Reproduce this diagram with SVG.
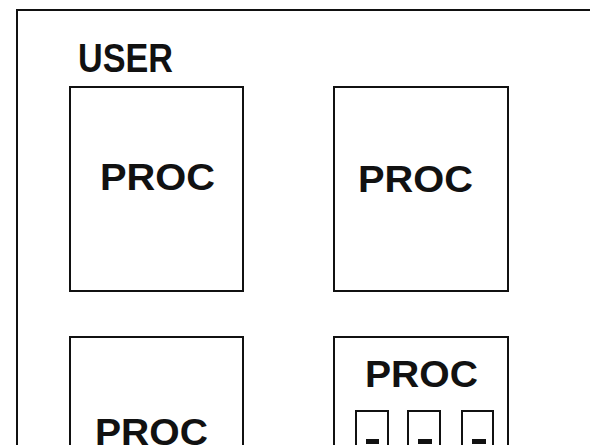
<svg xmlns="http://www.w3.org/2000/svg" width="590" height="445" viewBox="0 0 590 445">
<style>
.box{fill:#fff;stroke:#111;stroke-width:2}
.lbl{font-family:"Liberation Sans",Arial,sans-serif;font-weight:bold;fill:#111}
.mark{fill:#111}
</style>
<rect width="590" height="445" fill="#fff"/>
<g id="user">
<rect class="box" x="17" y="10" width="600" height="460"/>
<text class="lbl" x="78" y="72" font-size="40" textLength="95" lengthAdjust="spacingAndGlyphs">USER</text>
</g>
<g id="proc1">
<rect class="box" x="70" y="87" width="173" height="204"/>
<text class="lbl" x="100" y="190" font-size="37" textLength="115" lengthAdjust="spacingAndGlyphs">PROC</text>
</g>
<g id="proc2">
<rect class="box" x="334" y="87" width="174" height="204"/>
<text class="lbl" x="358" y="192" font-size="37" textLength="115" lengthAdjust="spacingAndGlyphs">PROC</text>
</g>
<g id="proc3">
<rect class="box" x="70" y="337" width="173" height="140"/>
<text class="lbl" x="95" y="445" font-size="37" textLength="113" lengthAdjust="spacingAndGlyphs">PROC</text>
</g>
<g id="proc4">
<rect class="box" x="334" y="337" width="174" height="140"/>
<text class="lbl" x="365" y="387" font-size="37" textLength="113" lengthAdjust="spacingAndGlyphs">PROC</text>
<rect class="box" x="356" y="411" width="32" height="50"/>
<rect class="box" x="408" y="411" width="32" height="50"/>
<rect class="box" x="462" y="411" width="31" height="50"/>
<rect class="mark" x="366" y="439" width="13" height="5"/>
<rect class="mark" x="418" y="439" width="14" height="5"/>
<rect class="mark" x="472" y="439" width="14" height="5"/>
</g>
<g id="connectors"/>
</svg>
